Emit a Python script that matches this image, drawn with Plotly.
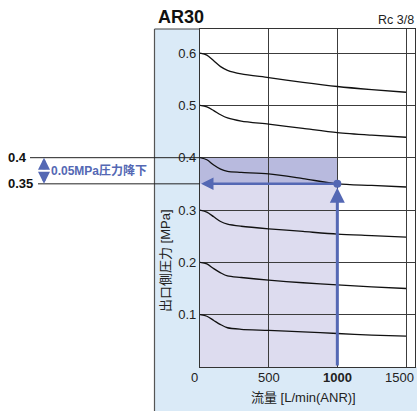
import plotly.graph_objects as go

# ---- data ----
flow = [0, 50, 100, 150, 200, 300, 500, 750, 1000, 1250, 1500]
p_06 = [0.600, 0.596, 0.585, 0.574, 0.567, 0.560, 0.553, 0.544, 0.536, 0.530, 0.525]
p_05 = [0.500, 0.497, 0.490, 0.482, 0.476, 0.470, 0.464, 0.456, 0.448, 0.443, 0.439]
p_04 = [0.400, 0.396, 0.386, 0.378, 0.374, 0.372, 0.369, 0.360, 0.350, 0.347, 0.344]
p_03 = [0.300, 0.296, 0.287, 0.278, 0.273, 0.269, 0.264, 0.259, 0.254, 0.251, 0.248]
p_02 = [0.200, 0.197, 0.188, 0.180, 0.174, 0.171, 0.166, 0.161, 0.157, 0.153, 0.150]
p_01 = [0.100, 0.097, 0.089, 0.081, 0.075, 0.072, 0.070, 0.067, 0.064, 0.061, 0.059]
curves = [p_06, p_05, p_04, p_03, p_02, p_01]

x_ticks = [0, 500, 1000, 1500]
x_tick_labels = ["0", "500", "<b>1000</b>", "1500"]
y_ticks = [0.1, 0.2, 0.3, 0.4, 0.5, 0.6]
y_tick_labels = ["0.1", "0.2", "0.3", "0.4", "0.5", "0.6"]

example_flow = 1000
set_pressure = 0.4
drop_pressure = 0.35

title = "AR30"
port = "Rc 3/8"
x_title = "流量 [L/min(ANR)]"
y_title = "出口側圧力 [MPa]"
drop_label = "<b>0.05MPa圧力降下</b>"

# ---- styling ----
W, H = 417, 411
L, R, T, B = 200, 2, 29, 44
pw, ph = W - L - R, H - T - B
BLUE = "#5468b4"
PANEL = "#daeaf7"
GRID = "#3c3c3c"
FONT = "Liberation Sans, Arial, Noto Sans CJK JP, sans-serif"
x_label_shift = {0: -6, 1500: -7}

def px_x(px):
    return (px - L) / pw

def px_y(py):
    return (H - B - py) / ph

fig = go.Figure()
for c in curves:
    fig.add_trace(go.Scatter(x=flow, y=c, mode="lines",
                             line=dict(color="#111111", width=1.3, shape="spline", smoothing=0.8),
                             hoverinfo="skip", showlegend=False))

fig.add_trace(go.Scatter(x=[example_flow], y=[drop_pressure], mode="markers",
                         marker=dict(color=BLUE, size=8), showlegend=False, hoverinfo="skip"))

shapes = []
# blue side panel (L shape, outside plot area)
shapes.append(dict(type="path", xref="paper", yref="paper", layer="below",
                   path=f"M {px_x(154)},{px_y(29)} L 0,{px_y(29)} L 0,0 L {px_x(417)},0 "
                        f"L {px_x(417)},{px_y(411)} L {px_x(154)},{px_y(411)} Z",
                   fillcolor=PANEL, line=dict(width=0)))
shapes.append(dict(type="line", xref="paper", yref="paper",
                   x0=px_x(154.5), x1=px_x(154.5), y0=px_y(29), y1=px_y(411),
                   line=dict(color="#555555", width=1.2)))
shapes.append(dict(type="line", xref="paper", yref="paper",
                   x0=px_x(154.5), x1=0, y0=1, y1=1,
                   line=dict(color="#444444", width=1.2)))
# shaded regions
shapes.append(dict(type="rect", xref="x", yref="y", layer="below",
                   x0=0, x1=example_flow, y0=0, y1=drop_pressure,
                   fillcolor="#dddcef", line=dict(width=0)))
shapes.append(dict(type="rect", xref="x", yref="y", layer="below",
                   x0=0, x1=example_flow, y0=drop_pressure, y1=set_pressure,
                   fillcolor="#b8bade", line=dict(width=0)))
# left reference lines
shapes.append(dict(type="line", xref="paper", yref="y",
                   x0=px_x(30), x1=0, y0=set_pressure, y1=set_pressure,
                   line=dict(color="#222222", width=1)))
shapes.append(dict(type="line", xref="paper", yref="y",
                   x0=px_x(38), x1=0, y0=drop_pressure, y1=drop_pressure,
                   line=dict(color="#222222", width=1)))

annotations = []
annotations.append(dict(text=f"<b>{title}</b>", xref="paper", yref="paper",
                        x=px_x(156), y=px_y(17), xanchor="left", yanchor="middle",
                        showarrow=False, font=dict(size=18, color="#111", family=FONT)))
annotations.append(dict(text=port, xref="paper", yref="paper",
                        x=px_x(416), y=px_y(20), xanchor="right", yanchor="middle",
                        showarrow=False, font=dict(size=12.5, color="#222", family=FONT)))
for xv, lab in zip(x_ticks, x_tick_labels):
    annotations.append(dict(text=lab, xref="x", yref="paper", x=xv, y=px_y(377),
                            xanchor="center", yanchor="middle", showarrow=False,
                            xshift=x_label_shift.get(xv, 0),
                            font=dict(size=13, color="#222", family=FONT)))
annotations.append(dict(text=x_title, xref="paper", yref="paper", x=px_x(303), y=px_y(398),
                        xanchor="center", yanchor="middle", showarrow=False,
                        font=dict(size=13, color="#222", family=FONT)))
annotations.append(dict(text=y_title, xref="paper", yref="paper", x=px_x(165), y=px_y(261),
                        xanchor="center", yanchor="middle", showarrow=False, textangle=-90,
                        font=dict(size=13, color="#222", family=FONT)))
annotations.append(dict(text="<b>0.4</b>", xref="paper", yref="y", x=px_x(6), y=set_pressure,
                        xanchor="left", yanchor="middle", showarrow=False,
                        font=dict(size=13, color="#111", family=FONT)))
annotations.append(dict(text="<b>0.35</b>", xref="paper", yref="y", x=px_x(6), y=drop_pressure,
                        xanchor="left", yanchor="middle", showarrow=False,
                        font=dict(size=13, color="#111", family=FONT)))
annotations.append(dict(text=drop_label, xref="paper", yref="y", x=px_x(49),
                        y=(set_pressure + drop_pressure) / 2,
                        xanchor="left", yanchor="middle", showarrow=False,
                        font=dict(size=12, color=BLUE, family=FONT)))
# double arrow
mid = (set_pressure + drop_pressure) / 2
for tip in (set_pressure, drop_pressure):
    annotations.append(dict(text="", xref="paper", yref="y", x=px_x(44), y=tip,
                            axref="pixel", ayref="pixel", ax=0, ay=13 if tip > mid else -13,
                            showarrow=True, arrowhead=2, arrowsize=0.8, arrowwidth=3,
                            arrowcolor=BLUE, standoff=0))
# blue example arrows
annotations.append(dict(text="", xref="x", yref="y", x=0, y=drop_pressure,
                        axref="x", ayref="y", ax=example_flow, ay=drop_pressure,
                        showarrow=True, arrowhead=2, arrowsize=1, arrowwidth=2.5,
                        arrowcolor=BLUE, standoff=1))
annotations.append(dict(text="", xref="x", yref="y", x=example_flow, y=drop_pressure,
                        axref="x", ayref="y", ax=example_flow, ay=0,
                        showarrow=True, arrowhead=2, arrowsize=1, arrowwidth=3,
                        arrowcolor=BLUE, standoff=4))

fig.update_layout(
    width=W, height=H,
    margin=dict(l=L, r=R, t=T, b=B, pad=0),
    paper_bgcolor="white", plot_bgcolor="white",
    font=dict(family=FONT, size=13, color="#222"),
    shapes=shapes, annotations=annotations, showlegend=False,
    xaxis=dict(range=[0, 1565.5], tickvals=x_ticks[1:], showticklabels=False,
               showgrid=True, gridcolor=GRID, gridwidth=1, zeroline=False,
               showline=True, mirror=True, linecolor="#333", linewidth=1.2, ticks=""),
    yaxis=dict(range=[0, 0.6459], tickvals=y_ticks, ticktext=y_tick_labels,
               showgrid=True, gridcolor=GRID, gridwidth=1, zeroline=False,
               showline=True, mirror=True, linecolor="#333", linewidth=1.2, ticks="",
               tickfont=dict(size=13, color="#222", family=FONT)),
)

fig.write_html("out.html", config={"displayModeBar": False},
               post_script="document.body.style.margin='0';document.body.style.overflow='hidden';")
